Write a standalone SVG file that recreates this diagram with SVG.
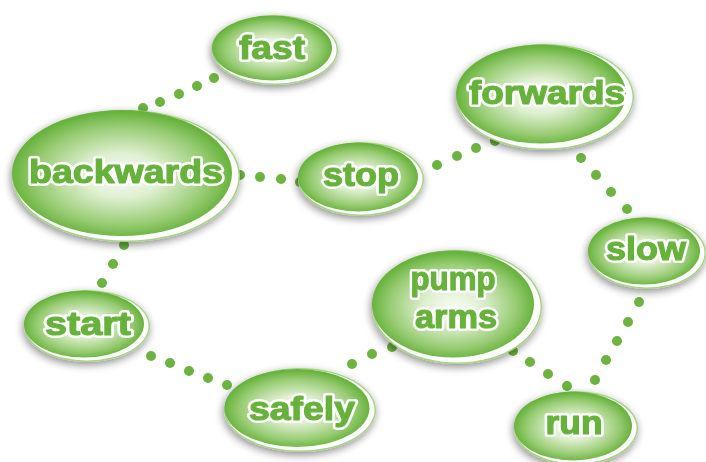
<svg xmlns="http://www.w3.org/2000/svg" width="706" height="462" viewBox="0 0 706 462">
<defs>
<radialGradient id="g" cx="50%" cy="52%" r="50%">
<stop offset="0" stop-color="#f7fbf2"/>
<stop offset="0.35" stop-color="#e0f0d2"/>
<stop offset="0.78" stop-color="#98cc74"/>
<stop offset="1" stop-color="#68b33d"/>
</radialGradient>
<filter id="sh" x="-20%" y="-20%" width="140%" height="150%">
<feGaussianBlur in="SourceAlpha" stdDeviation="4"/>
<feOffset dx="-1" dy="3" result="b"/>
<feComponentTransfer><feFuncA type="linear" slope="0.45"/></feComponentTransfer>
<feMerge><feMergeNode/><feMergeNode in="SourceGraphic"/></feMerge>
</filter>
</defs>
<style>
.rim{fill:#a6d486}
.wh{fill:#ffffff}
.bd{fill:url(#g)}
.dot{fill:#6cb33f}
text{font-family:"Liberation Sans",Arial,sans-serif;font-weight:bold;text-anchor:middle;stroke-linejoin:round;font-size:33px}
.o{fill:#ffffff;stroke:#ffffff;stroke-width:6}
.f{fill:#66b23b;stroke:#66b23b;stroke-width:1.2}
</style>
<rect width="706" height="462" fill="#ffffff"/>
<g id="connectors">
<circle class="dot" cx="214" cy="78" r="5"/><circle class="dot" cx="197" cy="86" r="5"/><circle class="dot" cx="179" cy="94" r="5"/><circle class="dot" cx="160" cy="102" r="5"/><circle class="dot" cx="143" cy="108" r="5"/>
<circle class="dot" cx="240" cy="175" r="5"/><circle class="dot" cx="260" cy="177" r="5"/><circle class="dot" cx="281" cy="179" r="5"/><circle class="dot" cx="300" cy="182" r="5"/>
<circle class="dot" cx="437" cy="165" r="5"/><circle class="dot" cx="457" cy="156" r="5"/><circle class="dot" cx="476" cy="148" r="5"/><circle class="dot" cx="495" cy="141" r="5"/>
<circle class="dot" cx="581" cy="158" r="5"/><circle class="dot" cx="596" cy="175" r="5"/><circle class="dot" cx="611" cy="192" r="5"/><circle class="dot" cx="627" cy="209" r="5"/>
<circle class="dot" cx="651" cy="282" r="5"/><circle class="dot" cx="639" cy="302" r="5"/><circle class="dot" cx="628" cy="322" r="5"/><circle class="dot" cx="617" cy="341" r="5"/><circle class="dot" cx="606" cy="360" r="5"/><circle class="dot" cx="595" cy="380" r="5"/>
<circle class="dot" cx="513" cy="351" r="5"/><circle class="dot" cx="530" cy="362" r="5"/><circle class="dot" cx="548" cy="374" r="5"/><circle class="dot" cx="567" cy="386" r="5"/>
<circle class="dot" cx="151" cy="356" r="5"/><circle class="dot" cx="170" cy="363" r="5"/><circle class="dot" cx="189" cy="371" r="5"/><circle class="dot" cx="208" cy="378" r="5"/><circle class="dot" cx="227" cy="385" r="5"/>
<circle class="dot" cx="352" cy="364" r="5"/><circle class="dot" cx="372" cy="354" r="5"/><circle class="dot" cx="392" cy="347" r="5"/>
<circle class="dot" cx="124" cy="245" r="5"/><circle class="dot" cx="113" cy="264" r="5"/><circle class="dot" cx="102" cy="283" r="5"/><circle class="dot" cx="90" cy="300" r="5"/>
</g>
<g id="fast" filter="url(#sh)">
<ellipse class="rim" cx="275" cy="50" rx="63" ry="35"/><ellipse class="wh" cx="275" cy="50" rx="61.5" ry="33.5"/><ellipse class="bd" cx="272" cy="48" rx="60" ry="32.5"/>
<text class="o" x="272" y="59" textLength="66" lengthAdjust="spacingAndGlyphs">fast</text>
<text class="f" x="272" y="59" textLength="66" lengthAdjust="spacingAndGlyphs">fast</text>
</g>
<g id="backwards" filter="url(#sh)">
<ellipse class="rim" cx="126" cy="176" rx="114" ry="66"/><ellipse class="wh" cx="126" cy="176" rx="112.5" ry="64.5"/><ellipse class="bd" cx="122" cy="173" rx="110" ry="63"/>
<text class="o" x="126" y="183" style="font-size:34px" textLength="194" lengthAdjust="spacingAndGlyphs">backwards</text>
<text class="f" x="126" y="183" style="font-size:34px" textLength="194" lengthAdjust="spacingAndGlyphs">backwards</text>
</g>
<g id="stop" filter="url(#sh)">
<ellipse class="rim" cx="361" cy="179" rx="63" ry="37"/><ellipse class="wh" cx="361" cy="179" rx="61.5" ry="35.5"/><ellipse class="bd" cx="358" cy="177" rx="60" ry="34.5"/>
<text class="o" x="361" y="186" textLength="76" lengthAdjust="spacingAndGlyphs">stop</text>
<text class="f" x="361" y="186" textLength="76" lengthAdjust="spacingAndGlyphs">stop</text>
</g>
<g id="forwards" filter="url(#sh)">
<ellipse class="rim" cx="545" cy="97" rx="89" ry="53"/><ellipse class="wh" cx="545" cy="97" rx="87.5" ry="51.5"/><ellipse class="bd" cx="541" cy="94" rx="85" ry="49.5"/>
<text class="o" x="547" y="104" textLength="156" lengthAdjust="spacingAndGlyphs">forwards</text>
<text class="f" x="547" y="104" textLength="156" lengthAdjust="spacingAndGlyphs">forwards</text>
</g>
<g id="slow" filter="url(#sh)">
<ellipse class="rim" cx="647" cy="253" rx="59" ry="36"/><ellipse class="wh" cx="647" cy="253" rx="57.5" ry="34.5"/><ellipse class="bd" cx="644" cy="251" rx="56" ry="33.5"/>
<text class="o" x="646" y="260" textLength="80" lengthAdjust="spacingAndGlyphs">slow</text>
<text class="f" x="646" y="260" textLength="80" lengthAdjust="spacingAndGlyphs">slow</text>
</g>
<g id="pump-arms" filter="url(#sh)">
<ellipse class="rim" cx="457" cy="307" rx="85" ry="57"/><ellipse class="wh" cx="457" cy="307" rx="83.5" ry="55.5"/><ellipse class="bd" cx="453" cy="304" rx="81" ry="53.5"/>
<text class="o" x="453" y="290" textLength="85" lengthAdjust="spacingAndGlyphs">pump</text>
<text class="f" x="453" y="290" textLength="85" lengthAdjust="spacingAndGlyphs">pump</text>
<text class="o" x="456" y="328" textLength="82" lengthAdjust="spacingAndGlyphs">arms</text>
<text class="f" x="456" y="328" textLength="82" lengthAdjust="spacingAndGlyphs">arms</text>
</g>
<g id="start" filter="url(#sh)">
<ellipse class="rim" cx="87" cy="326" rx="63" ry="36"/><ellipse class="wh" cx="87" cy="326" rx="61.5" ry="34.5"/><ellipse class="bd" cx="84" cy="324" rx="60" ry="33.5"/>
<text class="o" x="88" y="335" textLength="86" lengthAdjust="spacingAndGlyphs">start</text>
<text class="f" x="88" y="335" textLength="86" lengthAdjust="spacingAndGlyphs">start</text>
</g>
<g id="safely" filter="url(#sh)">
<ellipse class="rim" cx="300" cy="410" rx="76" ry="42"/><ellipse class="wh" cx="300" cy="410" rx="74.5" ry="40.5"/><ellipse class="bd" cx="297" cy="408" rx="72.5" ry="39"/>
<text class="o" x="302" y="420" textLength="106" lengthAdjust="spacingAndGlyphs">safely</text>
<text class="f" x="302" y="420" textLength="106" lengthAdjust="spacingAndGlyphs">safely</text>
</g>
<g id="run" filter="url(#sh)">
<ellipse class="rim" cx="576" cy="428" rx="62" ry="37"/><ellipse class="wh" cx="576" cy="428" rx="60.5" ry="35.5"/><ellipse class="bd" cx="573" cy="426" rx="59" ry="34.5"/>
<text class="o" x="574" y="434" textLength="57" lengthAdjust="spacingAndGlyphs">run</text>
<text class="f" x="574" y="434" textLength="57" lengthAdjust="spacingAndGlyphs">run</text>
</g>
</svg>
